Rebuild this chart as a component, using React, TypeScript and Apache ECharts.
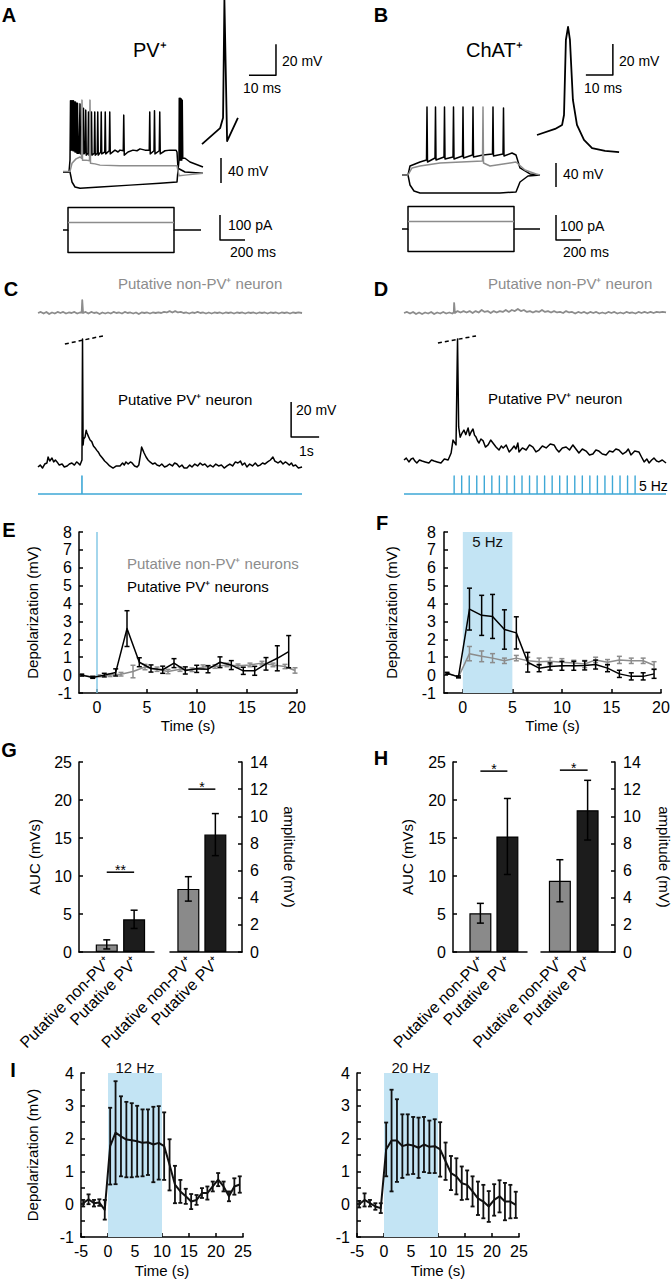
import React, { useEffect, useRef } from "react";
import * as echarts from "echarts";

/* ======================= DATA ======================= */

// Panel A – PV+ cell, [time (ms), Vm (mV)]
const aSpikingTrace = [
  [0, -70], [48, -70], [56, -51], [60, 44], [64, -35], [68, 44], [72, -35], [76, 44], [80, -36], [84, 44], [88, -36],
  [92, 42], [96, -38], [100, 42], [104, -38], [108, 40], [112, -40], [116, 40], [120, -40], [128, -40], [136, 39],
  [140, -41], [160, -40], [164, 32], [168, -41], [178, -38], [182, 29], [186, -43], [200, -40], [204, 26], [208, -43],
  [224, -41], [228, 26], [232, -43], [250, -40], [254, 26], [258, -43], [274, -40], [278, 26], [282, -43], [302, -38],
  [306, 26], [310, -41], [334, -38], [338, 26], [342, -41], [370, -36], [374, 26], [378, -41], [416, -35], [440, -38],
  [456, -35], [482, -36], [486, 21], [490, -43], [520, -38], [560, -35], [592, -36], [616, -33], [656, -35], [690, -35],
  [694, 26], [698, -41], [728, -36], [732, 28], [736, -41], [770, -36], [774, 26], [778, -41], [816, -36], [856, -35],
  [904, -35], [912, -38], [920, -64], [976, -70], [1120, -72],
];
const aThresholdTrace = [
  [0, -69], [56, -69], [72, -56], [104, -49], [136, -46], [148, -48], [152, 45], [156, -51], [184, -51], [212, -52],
  [216, 45], [220, -56], [256, -57], [296, -59], [456, -60], [696, -60], [912, -60], [928, -76], [976, -75], [1120, -72],
];
const aHyperTrace = [
  [0, -70], [56, -70], [72, -86], [96, -94], [136, -96], [296, -94], [536, -91], [776, -88], [912, -86], [920, -67],
  [928, -51], [930, 48], [934, -51], [938, 48], [942, -51], [946, 47], [950, -51], [954, 45], [958, -48], [976, -48],
  [1016, -54], [1120, -62],
];
const aVoltScale = [[1264, -87.6], [1264, -47.6]];
const aCurrentPos = [[0, 0], [40, 0], [40, 90], [888, 90], [888, 0], [1104, 0]];
const aCurrentSmall = [[40, 30], [888, 30]];
const aCurrentNeg = [[40, 0], [40, -90], [888, -90], [888, 0]];
const aCurrentScale = [[1256, 60], [1256, -40], [1456, -40]];
const aInsetSpike = [[0, -60], [6.7, -49.7], [7.8, -43], [8.3, 33], [9.3, -58], [13.3, -43]];
const aInsetScale = [[17.4, -15.5], [27.4, -15.5], [27.4, 4.5]];

// Panel B – ChAT+ cell
const bSpikingTrace = [
  [0, -70], [48, -70], [64, -55], [104, -51.7], [144, -48.3], [196, -45], [200, 43.3], [204, -48.3], [264, -41.7],
  [268, 43.3], [272, -45], [336, -40], [340, 43.3], [344, -43.3], [408, -40], [412, 43.3], [416, -43.3], [484, -38.3],
  [488, 43.3], [492, -41.7], [564, -36.7], [568, 43.3], [572, -40], [648, -36.7], [724, -35], [728, 43.3], [732, -38.3],
  [808, -35], [812, 41.7], [816, -38.3], [880, -33.3], [912, -36.7], [944, -58.3], [1024, -68.3], [1104, -70],
];
const bThresholdTrace = [
  [0, -70], [48, -70], [80, -58.3], [144, -55], [304, -50], [644, -46.7], [648, 43.3], [652, -50], [704, -55],
  [864, -50], [912, -48.3], [984, -61.7], [1072, -68.3], [1104, -70],
];
const bHyperTrace = [
  [0, -70], [48, -70], [64, -86.7], [96, -96.7], [144, -100], [784, -100], [912, -98.3], [944, -81.7], [1008, -71.7],
  [1104, -70],
];
const bVoltScale = [[1232, -90], [1232, -50]];
const bCurrentPos = [[0, 0], [48, 0], [48, 90], [896, 90], [896, 0], [1104, 0]];
const bCurrentSmall = [[48, 30], [896, 30]];
const bCurrentNeg = [[48, 0], [48, -90], [896, -90], [896, 0]];
const bCurrentScale = [[1232, 56], [1232, -44], [1432, -44]];
const bInsetSpike = [
  [0, -60], [6.7, -56.1], [9.3, -53.5], [10, -47.1], [10.7, 1.3], [11.5, 9.7], [12.2, 1.3], [13.3, -37.4],
  [14.8, -53.5], [17.4, -63.2], [20.4, -68.4], [25.2, -70.3], [30.4, -71],
];
const bInsetScale = [[18.1, -21.3], [28.1, -21.3], [28.1, -1.3]];

// Panel C – single pulse, [time (s), ΔVm (mV)]
const cNonPvTrace = [
  [0, 0], [0.1, 0.6], [0.2, -0.3], [0.3, 0.6], [0.4, -0.6], [0.5, 0.3], [0.6, -0.3], [0.7, 0.6], [0.8, 0], [0.9, 0.6],
  [1.0, -0.3], [1.1, 0.3], [1.2, 0], [1.3, 0.6], [1.4, -0.3], [1.5, 0.3], [1.56, 0.3], [1.58, 7.4], [1.61, 0],
  [1.7, 0.6], [1.8, -0.3], [1.9, 0.6], [2.0, 0], [2.1, 0.3], [2.2, -0.6], [2.3, 0.3], [2.4, -0.3], [2.5, 0.3],
  [2.6, -0.3], [2.7, 0.6], [2.8, 0], [2.9, 0.3], [3.0, -0.3], [3.1, 0.6], [3.2, 0], [3.3, 0.3], [3.4, -0.3],
  [3.5, 0.3], [3.6, -0.6], [3.7, 0.3], [3.8, 0], [3.9, 0.3], [4.0, -0.3], [4.1, 0.3], [4.2, 0], [4.3, 0.3],
  [4.4, 0], [4.5, 0.6], [4.6, 0.3], [4.7, 1.1], [4.8, 0.3], [4.9, 1.1], [5.0, 0.3], [5.1, 0.6], [5.2, 0],
  [5.3, 0.3], [5.4, -0.3], [5.5, 0.3], [5.6, 0], [5.7, 0.6], [5.8, 0], [5.9, 0.3], [6.0, -0.3], [6.1, 0.3],
  [6.2, -0.3], [6.3, 0.3], [6.4, 0], [6.5, 0.3], [6.6, -0.3], [6.7, 0.3], [6.8, 0], [6.9, 0.3], [7.0, -0.3],
  [7.1, 0.3], [7.2, 0], [7.3, 0.3], [7.4, -0.3], [7.5, 0.3], [7.6, 0], [7.7, 0.3], [7.8, -0.3], [7.9, 0.3],
  [8.0, 0], [8.1, 0.3], [8.2, -0.3], [8.3, 0.3], [8.4, 0], [8.5, 0.3], [8.6, -0.3], [8.7, 0.3], [8.8, 0],
  [8.9, 0.3], [9.0, -0.3], [9.1, 0.3], [9.2, 0], [9.3, 0.3], [9.43, 0],
];
const cPvTrace = [
  [0, 0], [0.08, 1.1], [0.16, -0.6], [0.24, 1.7], [0.32, 2.3], [0.36, 5.7], [0.42, 3.4], [0.5, 5.1], [0.56, 2.9],
  [0.62, 4.0], [0.68, 2.9], [0.76, 1.1], [0.86, 1.7], [0.94, 0], [1.04, 0.6], [1.12, 1.7], [1.21, 2.3], [1.3, 1.1],
  [1.38, 2.9], [1.43, 2.3], [1.5, 1.1], [1.57, 4.0], [1.59, 73.1], [1.61, 12.6], [1.63, 16], [1.68, 17.1],
  [1.72, 21], [1.75, 19.4], [1.8, 17.5], [1.86, 15.4], [1.92, 14.5], [1.98, 12], [2.04, 10.9], [2.1, 9.5],
  [2.15, 8.6], [2.21, 6.9], [2.3, 5.1], [2.38, 3.4], [2.46, 2.3], [2.56, 0.6], [2.68, -0.6], [2.8, 0.6], [2.93, 0.6],
  [3.02, 2.3], [3.08, 1.1], [3.14, 2.9], [3.22, 1.7], [3.3, 2.9], [3.36, 2.3], [3.45, 0.6], [3.54, 0], [3.6, 1.1],
  [3.68, 9], [3.7, 11.4], [3.75, 9.5], [3.79, 8.0], [3.86, 5.7], [3.93, 4.0], [4.0, 2.9], [4.1, 1.7], [4.18, 2.3],
  [4.25, 1.1], [4.34, 0.6], [4.42, 1.7], [4.52, 0], [4.61, 0.6], [4.7, 1.7], [4.8, 0.6], [4.88, 2.3], [4.96, 1.7],
  [5.05, 0], [5.14, 1.1], [5.22, -0.6], [5.32, -0.6], [5.42, 1.1], [5.5, 0], [5.6, 1.7], [5.7, 0.6], [5.79, 2.3],
  [5.88, 1.1], [5.96, 1.7], [6.06, 0], [6.15, 1.1], [6.25, 0], [6.35, 1.7], [6.45, 0.6], [6.55, 1.1], [6.65, -0.6],
  [6.75, 0.6], [6.85, 1.7], [6.95, 0.6], [7.05, 2.9], [7.14, 2.3], [7.23, 3.4], [7.3, 1.1], [7.38, 2.3], [7.46, 0],
  [7.56, 1.7], [7.66, 0.6], [7.76, 2.3], [7.85, 0.6], [7.93, 1.1], [8.02, 2.3], [8.1, 1.7], [8.2, 2.9], [8.3, 4.0],
  [8.39, 5.7], [8.46, 3.4], [8.57, 2.3], [8.66, 3.4], [8.75, 1.7], [8.83, 2.9], [8.89, 2.3], [8.98, 1.1], [9.05, 2.3],
  [9.11, 0.6], [9.2, 1.1], [9.3, -0.6], [9.43, 0],
];
const cTruncation = [[0.96, 70.3], [2.32, 74.9]];
const cScale = [[9.04, 37.1], [9.04, 17.1], [10.04, 17.1]];
const cPulses = [1.57];
const cEnd = 9.43;

// Panel D – 5 Hz train
const dNonPvTrace = [
  [0, 0], [0.08, 0.6], [0.16, -0.3], [0.24, 0.6], [0.32, -0.6], [0.4, 0.3], [0.48, -0.6], [0.56, 0.3], [0.64, -0.3],
  [0.72, 0.6], [0.8, -0.6], [0.88, 0.3], [0.96, -0.3], [1.04, 0.6], [1.12, -0.3], [1.2, 0.3], [1.28, -0.3],
  [1.32, 0.3], [1.33, 5.7], [1.35, 0], [1.42, 1.1], [1.5, 0.3], [1.58, 1.1], [1.66, 0.3], [1.74, 1.1], [1.82, 0],
  [1.9, 1.1], [1.98, 0.3], [2.06, 1.7], [2.14, 0.6], [2.22, 1.1], [2.3, 0], [2.38, 1.1], [2.46, 0.3], [2.54, 1.1],
  [2.62, 0.6], [2.7, 1.7], [2.78, 0.6], [2.86, 1.7], [2.94, 1.1], [3.02, 2.3], [3.1, 1.1], [3.18, 1.7], [3.26, 0.6],
  [3.34, 1.1], [3.42, 0.3], [3.5, 1.1], [3.58, 0.6], [3.66, 1.7], [3.74, 0.6], [3.82, 1.1], [3.9, 0.3], [3.98, 1.1],
  [4.06, 0.3], [4.14, 0.6], [4.22, 0], [4.3, 1.1], [4.38, 0.3], [4.46, 0.6], [4.54, -0.3], [4.62, 0.6], [4.7, 0],
  [4.78, 0.6], [4.86, -0.3], [4.94, 0.6], [5.02, 0], [5.1, 0.6], [5.18, -0.3], [5.26, 0.3], [5.34, -0.3],
  [5.42, 0.6], [5.5, 0], [5.58, 0.6], [5.66, -0.3], [5.74, 0.3], [5.82, -0.3], [5.9, 0.6], [5.98, 0], [6.06, 0.3],
  [6.14, -0.3], [6.22, 0.6], [6.3, 0], [6.38, 0.6], [6.46, 0], [6.54, 0.6], [6.62, 0], [6.7, 0.6], [6.78, 0.3],
  [6.86, 0.6], [6.95, 0.3],
];
const dPvTrace = [
  [0, 0], [0.06, 1.1], [0.13, -1.1], [0.19, 0.6], [0.24, 1.1], [0.29, -0.6], [0.34, -1.7], [0.41, 0], [0.48, -0.6],
  [0.56, -1.1], [0.66, -1.7], [0.73, 0], [0.8, -0.6], [0.88, -1.1], [0.98, -1.7], [1.07, 0.6], [1.17, 0],
  [1.25, 4.0], [1.3, 11.4], [1.38, 8.6], [1.42, 69.1], [1.45, 18.9], [1.49, 13], [1.54, 15.4], [1.59, 17.1],
  [1.64, 14.5], [1.7, 18.3], [1.74, 14], [1.78, 16.0], [1.83, 17.7], [1.87, 14.2], [1.91, 13.1], [1.95, 11],
  [1.99, 9.7], [2.04, 12], [2.1, 10.9], [2.16, 7.4], [2.23, 8.6], [2.3, 11.4], [2.36, 9.7], [2.44, 7.4],
  [2.52, 5.7], [2.58, 8], [2.63, 6.9], [2.71, 8.6], [2.79, 4.6], [2.86, 6.3], [2.92, 8.0], [2.97, 6.3], [3.02, 9.7],
  [3.05, 4.6], [3.14, 6.9], [3.24, 5.7], [3.33, 8.6], [3.42, 7.4], [3.5, 4.6], [3.58, 5.7], [3.67, 8.0], [3.77, 6.9],
  [3.88, 9.1], [3.98, 8.6], [4.04, 6.3], [4.11, 4.6], [4.2, 6.9], [4.3, 7.4], [4.39, 5.7], [4.48, 8.6], [4.56, 6.3],
  [4.64, 4.0], [4.73, 6.3], [4.83, 5.1], [4.92, 2.9], [5.01, 3.4], [5.09, 5.7], [5.17, 5.1], [5.26, 3.4],
  [5.36, 2.9], [5.45, 5.1], [5.54, 4.6], [5.62, 6.3], [5.7, 5.7], [5.8, 3.4], [5.89, 4.6], [5.95, 6.3],
  [6.02, 2.9], [6.12, 5.1], [6.23, 4.6], [6.3, 1.7], [6.37, -1.1], [6.44, 0.6], [6.5, -1.7], [6.57, 0],
  [6.63, 1.1], [6.7, -0.6], [6.76, -1.1], [6.85, 0], [6.95, -1.7],
];
const dTruncation = [[0.9, 66.9], [1.91, 70.9]];
const dPulses = [
  1.33, 1.53, 1.73, 1.93, 2.13, 2.33, 2.53, 2.73, 2.93, 3.13, 3.33, 3.53, 3.73, 3.93, 4.13, 4.33, 4.53, 4.73, 4.93,
  5.13, 5.33, 5.53, 5.73, 5.93, 6.13,
];
const dEnd = 6.95;

// Panel E – single pulse, population (mV)
const eTimesPv = [-1.53, -0.43, 0.73, 1.87, 3.0, 4.23, 5.4, 6.57, 7.7, 8.83, 9.97, 11.1, 12.3, 13.43, 14.63, 15.77, 16.9, 18.03, 19.17];
const ePvMean = [0.0, -0.13, 0.0, 0.15, 2.6, 0.72, 0.37, 0.3, 0.67, 0.26, 0.35, 0.33, 0.72, 0.56, 0.24, 0.24, 0.63, 0.94, 1.31];
const ePvSem = [0.05, 0.05, 0.1, 0.2, 1.0, 0.25, 0.2, 0.2, 0.25, 0.2, 0.2, 0.2, 0.3, 0.25, 0.2, 0.25, 0.35, 0.7, 0.9];
const eTimesNon = [-1.53, -0.43, 0.2, 1.3, 2.4, 3.6, 4.8, 6.0, 7.1, 8.3, 9.5, 10.6, 11.8, 13.0, 14.1, 15.3, 16.5, 17.6, 18.8, 19.8];
const eNonMean = [0.0, -0.1, -0.04, 0.0, 0.05, 0.2, 0.45, 0.33, 0.2, 0.33, 0.3, 0.45, 0.48, 0.57, 0.52, 0.57, 0.67, 0.57, 0.48, 0.26];
const eNonSem = [0.05, 0.05, 0.05, 0.08, 0.1, 0.35, 0.15, 0.12, 0.12, 0.12, 0.1, 0.12, 0.1, 0.1, 0.1, 0.1, 0.1, 0.1, 0.12, 0.15];

// Panel F – 5 Hz, population (mV)
const fTimes = [-1.6, -0.44, 0.67, 1.9, 3.0, 4.2, 5.4, 6.55, 7.7, 8.8, 10.0, 11.2, 12.3, 13.4, 14.6, 15.8, 17.0, 18.2, 19.3];
const fPvMean = [0.1, -0.1, 3.69, 3.34, 3.28, 2.55, 2.36, 0.72, 0.39, 0.48, 0.52, 0.52, 0.54, 0.59, 0.39, 0.07, -0.07, -0.07, 0.07];
const fPvSem = [0.05, 0.05, 1.17, 1.12, 1.23, 1.1, 0.9, 0.55, 0.2, 0.2, 0.25, 0.25, 0.25, 0.25, 0.2, 0.2, 0.2, 0.2, 0.25];
const fNonMean = [0.1, -0.1, 1.2, 1.05, 0.95, 0.8, 0.95, 0.8, 0.75, 0.78, 0.72, 0.68, 0.62, 0.85, 0.72, 0.85, 0.8, 0.8, 0.55];
const fNonSem = [0.05, 0.05, 0.4, 0.3, 0.25, 0.15, 0.15, 0.2, 0.2, 0.2, 0.2, 0.15, 0.2, 0.15, 0.15, 0.2, 0.15, 0.15, 0.2];

// Panels G / H – bar summaries
const barCategories = ["Putative non-PV\u207A", "Putative PV\u207A"];
const gAuc = [1.0, 4.3];
const gAucSem = [0.6, 1.2];
const gAmp = [4.65, 8.65];
const gAmpSem = [0.9, 1.55];
const hAuc = [5.1, 15.2];
const hAucSem = [1.3, 5.0];
const hAmp = [5.25, 10.45];
const hAmpSem = [1.55, 2.2];
const gAucSig = { level: 10.5, text: "**" };
const gAmpSig = { level: 12.0, text: "*" };
const hAucSig = { level: 23.8, text: "*" };
const hAmpSig = { level: 13.4, text: "*" };

// Panel I – 12 Hz / 20 Hz, population (mV)
const iTimes = [
  -4.6, -3.6, -2.6, -1.6, -0.6, 0.4, 1.4, 2.4, 3.4, 4.4, 5.4, 6.4, 7.4, 8.4, 9.4, 10.4, 11.4, 12.4, 13.4, 14.4, 15.4,
  16.4, 17.4, 18.4, 19.4, 20.4, 21.4, 22.4, 23.4, 24.4,
];
const i12Mean = [0.03, 0.15, 0.03, 0.05, -0.17, 1.77, 2.18, 2.07, 1.97, 1.95, 1.92, 1.87, 1.89, 1.82, 1.87, 1.77, 1.2, 0.6, 0.39, 0.24, 0.08, 0.13, 0.34, 0.34, 0.54, 0.75, 0.54, 0.24, 0.54, 0.6];
const i12Sem = [0.1, 0.15, 0.1, 0.1, 0.3, 1.17, 1.57, 1.22, 1.15, 1.13, 1.08, 1.02, 1.0, 1.15, 1.12, 1.03, 0.78, 0.57, 0.35, 0.23, 0.23, 0.15, 0.15, 0.2, 0.15, 0.2, 0.15, 0.15, 0.25, 0.25];
const i20Mean = [0.0, 0.13, 0.03, -0.07, -0.12, 1.67, 1.94, 1.94, 1.77, 1.82, 1.79, 1.72, 1.82, 1.75, 1.77, 1.67, 1.31, 0.95, 0.85, 0.64, 0.59, 0.39, 0.18, 0.08, -0.07, 0.13, 0.24, 0.08, 0.08, -0.02];
const i20Sem = [0.1, 0.2, 0.1, 0.1, 0.15, 0.82, 1.55, 1.26, 0.97, 0.92, 0.87, 0.92, 0.84, 0.8, 0.82, 0.83, 0.57, 0.52, 0.55, 0.51, 0.44, 0.46, 0.51, 0.51, 0.47, 0.48, 0.49, 0.57, 0.51, 0.4];

/* ======================= LAYOUT & STYLE ======================= */
const FF = "Liberation Sans, Arial, Helvetica, sans-serif";
const font = (size: number, bold = false) => `${bold ? "bold " : ""}${size}px ${FF}`;
const BLUE = "#3ea8d6";
const SHADE = "#c3e4f4";
const MARK = "#86c8e6";
const GRAY = "#8c8c8c";
const BAR_COLORS = ["#8a8a8a", "#1c1c1c"];
const POS_G1 = [0.37, 0.735];
const POS_G2 = [0.255, 0.63];
const TICK_FS = 16;

const grids = [
  { left: 63, top: 97, width: 187.5, height: 93.75 }, // 0 A voltage
  { left: 63, top: 205, width: 187.5, height: 50 }, // 1 A current
  { left: 202, top: 0, width: 81, height: 147.25 }, // 2 A inset
  { left: 402, top: 100, width: 187.5, height: 99 }, // 3 B voltage
  { left: 402, top: 204, width: 187.5, height: 50 }, // 4 B current
  { left: 537, top: 18.75, width: 83.7, height: 139.5 }, // 5 B inset
  { left: 38, top: 290.25, width: 294, height: 31.5 }, // 6 C non-PV
  { left: 38, top: 327, width: 294, height: 148.75 }, // 7 C PV
  { left: 38, top: 476, width: 294, height: 18 }, // 8 C stim
  { left: 404, top: 290.25, width: 263.9, height: 31.5 }, // 9 D non-PV
  { left: 404, top: 328.75, width: 263.9, height: 140 }, // 10 D PV
  { left: 404, top: 476, width: 263.9, height: 18 }, // 11 D stim
  { left: 79, top: 532, width: 218, height: 161 }, // 12 E
  { left: 444, top: 532, width: 217, height: 161 }, // 13 F
  { left: 79, top: 762, width: 75, height: 190 }, // 14 G AUC
  { left: 170, top: 762, width: 72, height: 190 }, // 15 G amplitude
  { left: 453, top: 762, width: 74, height: 190 }, // 16 H AUC
  { left: 541, top: 762, width: 74, height: 190 }, // 17 H amplitude
  { left: 81, top: 1073, width: 162, height: 164 }, // 18 I 12 Hz
  { left: 357, top: 1073, width: 162, height: 164 }, // 19 I 20 Hz
];

const traceRanges = [
  [0, 1500, -100, 50], [0, 1500, -100, 100], [0, 30, -62, 33],
  [0, 1500, -110, 55], [0, 1500, -100, 100], [0, 31, -75, 15],
  [0, 10.5, -5, 13], [0, 10.5, -5, 80], [0, 10.5, 0, 1],
  [0, 7, -5, 13], [0, 7, -5, 75], [0, 7, 0, 1],
];

function stimLine(pulses: number[], end: number) {
  const pts: number[][] = [[0, 0]];
  pulses.forEach((p) => pts.push([p, 0], [p, 1], [p, 0]));
  pts.push([end, 0]);
  return pts;
}

function trace(gi: number, data: number[][], color = "#000", width = 1.5, dashed = false, z = 3) {
  return {
    type: "line", xAxisIndex: gi, yAxisIndex: gi, data, symbol: "none", showSymbol: false, silent: true, clip: false, z,
    lineStyle: { color, width, type: dashed ? [4, 3] : "solid", join: "round" }, itemStyle: { color },
  };
}

function meanLine(gi: number, xs: number[], ys: number[], color: string, width: number, z = 3) {
  return trace(gi, xs.map((x, i) => [x, ys[i]]), color, width, false, z);
}

function errorBars(gi: number, xs: number[], means: number[], sems: number[], color: string, cap: number, width: number, z = 4) {
  return {
    type: "custom", xAxisIndex: gi, yAxisIndex: gi, silent: true, z,
    data: xs.map((x, i) => [x, means[i], sems[i]]),
    encode: { x: 0, y: 1 },
    renderItem: (_p: any, api: any) => {
      const x = api.value(0), m = api.value(1), s = api.value(2);
      const t = api.coord([x, m + s]);
      const b = api.coord([x, m - s]);
      const st = { stroke: color, lineWidth: width };
      return {
        type: "group",
        children: [
          { type: "line", shape: { x1: t[0], y1: t[1], x2: b[0], y2: b[1] }, style: st },
          { type: "line", shape: { x1: t[0] - cap, y1: t[1], x2: t[0] + cap, y2: t[1] }, style: st },
          { type: "line", shape: { x1: b[0] - cap, y1: b[1], x2: b[0] + cap, y2: b[1] }, style: st },
        ],
      };
    },
  };
}

function sigBar(gi: number, pos: number[], sig: { level: number; text: string }) {
  return {
    type: "custom", xAxisIndex: gi, yAxisIndex: gi, silent: true, z: 6,
    data: [[pos[0], sig.level, pos[1]]],
    encode: { x: 0, y: 1 },
    renderItem: (_p: any, api: any) => {
      const a = api.coord([api.value(0), api.value(1)]);
      const b = api.coord([api.value(2), api.value(1)]);
      return {
        type: "group",
        children: [
          { type: "line", shape: { x1: a[0], y1: a[1], x2: b[0], y2: b[1] }, style: { stroke: "#000", lineWidth: 1.5 } },
          { type: "text", x: (a[0] + b[0]) / 2, y: a[1] - 2, style: { text: sig.text, fill: "#000", font: font(14), align: "center", verticalAlign: "middle" } },
        ],
      };
    },
  };
}

function bars(gi: number, pos: number[], vals: number[]) {
  return {
    type: "bar", xAxisIndex: gi, yAxisIndex: gi, barWidth: 22, silent: true, z: 2,
    data: vals.map((v, i) => ({ value: [pos[i], v], itemStyle: { color: BAR_COLORS[i], borderColor: "#000", borderWidth: 1.2 } })),
  };
}

function shade(gi: number, from: number, to: number, label: string, labelPos: string, dist: number) {
  return {
    type: "line", xAxisIndex: gi, yAxisIndex: gi, data: [], z: 1, silent: true,
    markArea: {
      silent: true,
      itemStyle: { color: SHADE },
      label: { show: true, position: labelPos, distance: dist, color: "#111", fontSize: 15, fontFamily: FF },
      data: [[{ xAxis: from, yAxis: "max", name: label }, { xAxis: to, yAxis: "min" }]],
    },
  };
}

const axisLine = { show: true, onZero: false, lineStyle: { color: "#000", width: 1.5 } };
const tick = { show: true, inside: true, length: 4, lineStyle: { color: "#000", width: 1.5 } };
const lbl = (margin: number) => ({ color: "#000", fontSize: TICK_FS, fontFamily: FF, margin });
const nameStyle = { color: "#000", fontSize: 15, fontFamily: FF };

function buildOption() {
  const xAxis: any[] = [];
  const yAxis: any[] = [];
  traceRanges.forEach((r, gi) => {
    xAxis.push({ gridIndex: gi, type: "value", min: r[0], max: r[1], show: false });
    yAxis.push({ gridIndex: gi, type: "value", min: r[2], max: r[3], show: false });
  });
  // E
  xAxis.push({
    gridIndex: 12, type: "value", min: -1.8, max: 20, axisLine, axisTick: { ...tick, customValues: [0, 5, 10, 15, 20] },
    axisLabel: { ...lbl(6), customValues: [0, 5, 10, 15, 20] }, splitLine: { show: false },
    name: "Time (s)", nameLocation: "middle", nameGap: 25, nameTextStyle: nameStyle, nameMoveOverlap: false,
  });
  yAxis.push({
    gridIndex: 12, type: "value", min: -1, max: 8, interval: 1, axisLine, axisTick: tick, axisLabel: lbl(7),
    splitLine: { show: false }, name: "Depolarization (mV)", nameLocation: "middle", nameGap: 39, nameRotate: 90,
    nameTextStyle: nameStyle, nameMoveOverlap: false,
  });
  // F
  xAxis.push({
    gridIndex: 13, type: "value", min: -1.9, max: 20, axisLine, axisTick: { ...tick, customValues: [0, 5, 10, 15, 20] },
    axisLabel: { ...lbl(6), customValues: [0, 5, 10, 15, 20] }, splitLine: { show: false },
    name: "Time (s)", nameLocation: "middle", nameGap: 25, nameTextStyle: nameStyle, nameMoveOverlap: false,
  });
  yAxis.push({
    gridIndex: 13, type: "value", min: -1, max: 8, interval: 1, axisLine, axisTick: tick, axisLabel: lbl(8),
    splitLine: { show: false }, name: "Depolarization (mV)", nameLocation: "middle", nameGap: 45, nameRotate: 90,
    nameTextStyle: nameStyle, nameMoveOverlap: false,
  });
  // G / H bar axes (category names are placed after layout, below)
  const barX = (gi: number) => ({
    gridIndex: gi, type: "value", min: 0, max: 1, axisLine, axisTick: { show: false }, splitLine: { show: false },
    axisLabel: { show: false },
  });
  const aucY = (gi: number, gap: number) => ({
    gridIndex: gi, type: "value", min: 0, max: 25, interval: 5, position: "left", axisLine, axisTick: tick,
    axisLabel: lbl(7), splitLine: { show: false }, name: "AUC (mVs)", nameLocation: "middle", nameGap: gap,
    nameRotate: 90, nameTextStyle: nameStyle, nameMoveOverlap: false,
  });
  const ampY = (gi: number, gap: number) => ({
    gridIndex: gi, type: "value", min: 0, max: 14, interval: 2, position: "right", axisLine, axisTick: tick,
    axisLabel: lbl(8), splitLine: { show: false }, name: "amplitude (mV)", nameLocation: "middle", nameGap: gap,
    nameRotate: -90, nameTextStyle: nameStyle, nameMoveOverlap: false,
  });
  xAxis.push(barX(14)); yAxis.push(aucY(14, 37));
  xAxis.push(barX(15)); yAxis.push(ampY(15, 40));
  xAxis.push(barX(16)); yAxis.push(aucY(16, 38));
  xAxis.push(barX(17)); yAxis.push(ampY(17, 42));
  // I
  const iX = (gi: number) => ({
    gridIndex: gi, type: "value", min: -5, max: 25, interval: 5, axisLine, axisTick: tick, axisLabel: lbl(6),
    splitLine: { show: false }, name: "Time (s)", nameLocation: "middle", nameGap: 26, nameTextStyle: nameStyle,
    nameMoveOverlap: false,
  });
  const iY = (gi: number, named: boolean) => ({
    gridIndex: gi, type: "value", min: -1, max: 4, interval: 0.5, axisLine, axisTick: tick,
    axisLabel: { ...lbl(7), formatter: (v: number) => (Math.abs(v - Math.round(v)) < 1e-6 ? String(Math.round(v)) : "") },
    splitLine: { show: false }, name: named ? "Depolarization (mV)" : "", nameLocation: "middle", nameGap: 41,
    nameRotate: 90, nameTextStyle: nameStyle, nameMoveOverlap: false,
  });
  xAxis.push(iX(18)); yAxis.push(iY(18, true));
  xAxis.push(iX(19)); yAxis.push(iY(19, false));

  const series: any[] = [
    // A
    trace(0, aHyperTrace), trace(0, aSpikingTrace), trace(0, aThresholdTrace, GRAY, 1.5, false, 4), trace(0, aVoltScale, "#000", 1.5),
    trace(1, aCurrentPos), trace(1, aCurrentNeg), trace(1, aCurrentSmall, GRAY, 1.5, false, 4), trace(1, aCurrentScale),
    trace(2, aInsetSpike, "#000", 1.8), trace(2, aInsetScale),
    // B
    trace(3, bHyperTrace), trace(3, bSpikingTrace), trace(3, bThresholdTrace, GRAY, 1.5, false, 4), trace(3, bVoltScale),
    trace(4, bCurrentPos), trace(4, bCurrentNeg), trace(4, bCurrentSmall, GRAY, 1.5, false, 4), trace(4, bCurrentScale),
    trace(5, bInsetSpike, "#000", 1.8), trace(5, bInsetScale),
    // C
    trace(6, cNonPvTrace, GRAY, 1.8), trace(7, cPvTrace, "#000", 1.5), trace(7, cTruncation, "#000", 1.5, true), trace(7, cScale),
    trace(8, stimLine(cPulses, cEnd), BLUE, 1.6),
    // D
    trace(9, dNonPvTrace, GRAY, 1.8), trace(10, dPvTrace, "#000", 1.5), trace(10, dTruncation, "#000", 1.5, true),
    trace(11, stimLine(dPulses, dEnd), BLUE, 1.4),
    // E
    {
      type: "line", xAxisIndex: 12, yAxisIndex: 12, data: [], z: 1, silent: true,
      markLine: { silent: true, symbol: ["none", "none"], label: { show: false }, lineStyle: { color: MARK, width: 1.5, type: "solid" }, data: [{ xAxis: 0 }] },
    },
    meanLine(12, eTimesNon, eNonMean, GRAY, 1.5), errorBars(12, eTimesNon, eNonMean, eNonSem, GRAY, 2.5, 1.5),
    meanLine(12, eTimesPv, ePvMean, "#000", 1.5, 5), errorBars(12, eTimesPv, ePvMean, ePvSem, "#000", 2.5, 1.5, 6),
    // F
    shade(13, 0, 5, "5 Hz", "insideTop", 2),
    meanLine(13, fTimes, fNonMean, GRAY, 1.5), errorBars(13, fTimes, fNonMean, fNonSem, GRAY, 2.5, 1.5),
    meanLine(13, fTimes, fPvMean, "#000", 1.5, 5), errorBars(13, fTimes, fPvMean, fPvSem, "#000", 2.5, 1.5, 6),
    // G
    bars(14, POS_G1, gAuc), errorBars(14, POS_G1, gAuc, gAucSem, "#000", 3.5, 1.5), sigBar(14, POS_G1, gAucSig),
    bars(15, POS_G2, gAmp), errorBars(15, POS_G2, gAmp, gAmpSem, "#000", 3.5, 1.5), sigBar(15, POS_G2, gAmpSig),
    // H
    bars(16, POS_G1, hAuc), errorBars(16, POS_G1, hAuc, hAucSem, "#000", 3.5, 1.5), sigBar(16, POS_G1, hAucSig),
    bars(17, POS_G2, hAmp), errorBars(17, POS_G2, hAmp, hAmpSem, "#000", 3.5, 1.5), sigBar(17, POS_G2, hAmpSig),
    // I
    shade(18, 0, 10, "12 Hz", "top", -2),
    meanLine(18, iTimes, i12Mean, "#111", 2), errorBars(18, iTimes, i12Mean, i12Sem, "#111", 2, 1.8),
    shade(19, 0, 10, "20 Hz", "top", -2),
    meanLine(19, iTimes, i20Mean, "#111", 2), errorBars(19, iTimes, i20Mean, i20Sem, "#111", 2, 1.8),
  ];

  return {
    animation: false,
    backgroundColor: "#fff",
    textStyle: { fontFamily: FF },
    grid: grids.map((g) => ({ ...g, containLabel: false, outerBoundsMode: "none" })),
    xAxis,
    yAxis,
    series,
  };
}

function T(text: string, x: number, y: number, size = 15, color = "#000", bold = false, align = "left", rotation = 0) {
  return {
    type: "text", x, y, rotation, silent: true, z: 10,
    style: { text, fill: color, font: font(size, bold), align, verticalAlign: "middle" },
  };
}

const annotations = [
  T("A", 9, 15, 20, "#000", true, "center"), T("PV\u207A", 133, 50, 20),
  T("20 mV", 282, 61, 14), T("10 ms", 262, 88, 14, "#000", false, "center"), T("40 mV", 228, 171, 14),
  T("100 pA", 228, 225, 14), T("200 ms", 253, 252, 14, "#000", false, "center"),
  T("B", 381, 15, 20, "#000", true, "center"), T("ChAT\u207A", 466, 50, 20),
  T("20 mV", 619, 61, 14), T("10 ms", 603, 88, 14, "#000", false, "center"), T("40 mV", 563, 174, 14),
  T("100 pA", 560, 226, 14), T("200 ms", 586, 252, 14, "#000", false, "center"),
  T("C", 11, 289, 20, "#000", true, "center"), T("Putative non-PV\u207A neuron", 118, 283, 15, GRAY),
  T("Putative PV\u207A neuron", 118, 399, 15), T("20 mV", 296, 410, 14), T("1s", 299, 451, 14),
  T("D", 381, 289, 20, "#000", true, "center"), T("Putative non-PV\u207A neuron", 488, 283, 15, GRAY),
  T("Putative PV\u207A neuron", 488, 398, 15), T("5 Hz", 639, 486, 14),
  T("E", 9, 530, 20, "#000", true, "center"), T("Putative non-PV\u207A neurons", 127, 563, 15, GRAY),
  T("Putative PV\u207A neurons", 127, 586, 15),
  T("F", 382, 523, 20, "#000", true, "center"),
  T("G", 9, 750, 20, "#000", true, "center"), T("H", 381, 758, 20, "#000", true, "center"),
  T("I", 13, 1070, 20, "#000", true, "center"),
];

export default function App() {
  const ref = useRef<HTMLDivElement>(null);
  useEffect(() => {
    document.body.style.margin = "0";
    const chart = echarts.init(ref.current as HTMLDivElement, undefined, { renderer: "svg" });
    chart.setOption(buildOption() as any);
    // category names of the bar panels, placed under each bar through the axis scale, rotated 45°
    const catLabels: any[] = [];
    const groups: [number, number[]][] = [[14, POS_G1], [15, POS_G2], [16, POS_G1], [17, POS_G2]];
    groups.forEach(([gi, pos]) => {
      pos.forEach((p, i) => {
        const pt = chart.convertToPixel({ gridIndex: gi } as any, [p, 0]) as number[];
        catLabels.push(T(barCategories[i], pt[0] + 1, pt[1] + 8, 16, "#000", false, "right", Math.PI / 4));
      });
    });
    chart.setOption({ graphic: [...annotations, ...catLabels] } as any);
    return () => chart.dispose();
  }, []);
  return <div ref={ref} style={{ width: 672, height: 1280 }} />;
}
